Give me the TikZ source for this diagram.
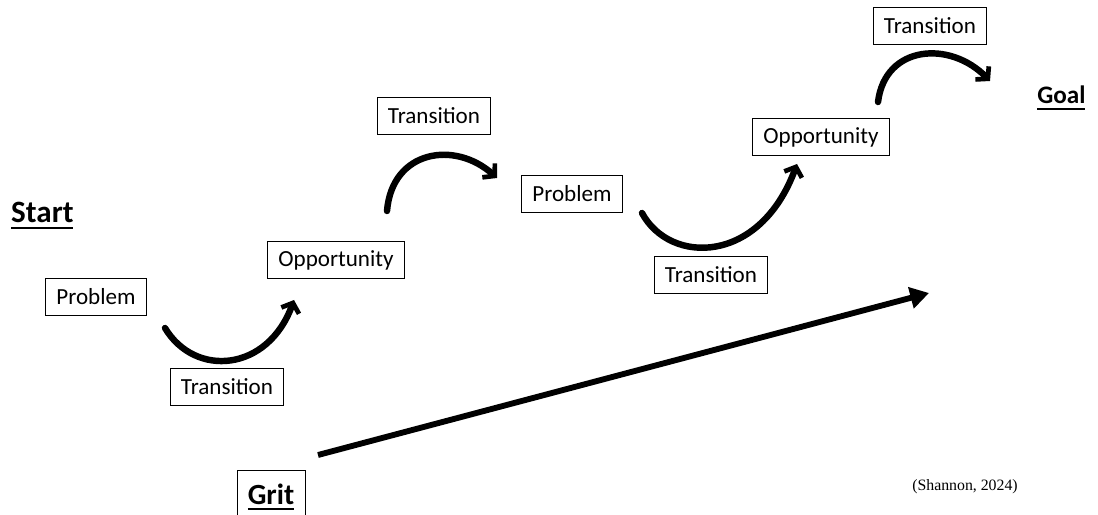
\documentclass[tikz,border=0pt]{standalone}
\usepackage{fontspec}
\setmainfont{Carlito}
\newfontfamily\citefont{Liberation Serif}
\usetikzlibrary{arrows.meta}
\newcommand{\ulbold}[1]{\setbox0\hbox{#1}\leavevmode\rlap{\vrule height -3.2pt depth 5.4pt width \wd0}\box0}

\begin{document}
\begin{tikzpicture}[x=0.03cm, y=-0.03cm,
  box/.style={draw, line width=0.8pt, inner xsep=9pt, minimum height=32pt, font=\fontsize{19.7}{22}\selectfont},
  title/.style={inner sep=0pt, anchor=base west, font=\fontsize{26.5}{30}\selectfont\bfseries},
  curvy/.style={line width=5.5pt, line cap=round, -{Straight Barb[length=7pt, width=16pt, line width=4pt]}},
  grit arrow/.style={line width=5pt, -{Triangle[length=16pt, width=18pt]}}]
\useasboundingbox (0,0) rectangle (1098,515);
% labels
\node[title] (start) at (11,223) {\ulbold{Start}};
\node[title, font=\fontsize{21.5}{25}\selectfont\bfseries] (goal) at (1037,104) {\ulbold{Goal}};
\node[draw, line width=0.8pt, minimum width=2.04cm, minimum height=1.62cm, font=\fontsize{25}{28}\selectfont\bfseries] (grit) at (271,497) {\ulbold{Grit}};
\node[font=\citefont\fontsize{13.5}{16}\selectfont] (cite) at (965,487) {(Shannon, 2024)};
% boxes
\node[box] (prob1) at (96,297) {Problem};
\node[box] (trans1) at (227,387) {Transition};
\node[box] (opp1) at (336,260) {Opportunity};
\node[box] (trans2) at (434,116) {Transition};
\node[box] (prob2) at (572,194) {Problem};
\node[box] (trans3) at (711,275) {Transition};
\node[box] (opp2) at (821,137) {Opportunity};
\node[box] (trans4) at (930,26) {Transition};
% curve ends
\coordinate (c1a) at (165,328);
\coordinate (c1b) at (294,300);
\coordinate (c2a) at (387,211);
\coordinate (c2b) at (497,178);
\coordinate (c3a) at (642,213);
\coordinate (c3b) at (797,164);
\coordinate (c4a) at (878,102);
\coordinate (c4b) at (990,81);
\coordinate (g1) at (318,455);
\coordinate (g2) at (929,293);
% curves
\draw[curvy] (c1a) .. controls (195,378) and (268,372) .. (c1b);
\draw[curvy] (c2a) .. controls (392,150) and (455,140) .. (c2b);
\draw[curvy] (c3a) .. controls (670,265) and (760,265) .. (c3b);
\draw[curvy] (c4a) .. controls (885,45) and (950,40) .. (c4b);
\draw[grit arrow] (g1) -- (g2);
\end{tikzpicture}
\end{document}
